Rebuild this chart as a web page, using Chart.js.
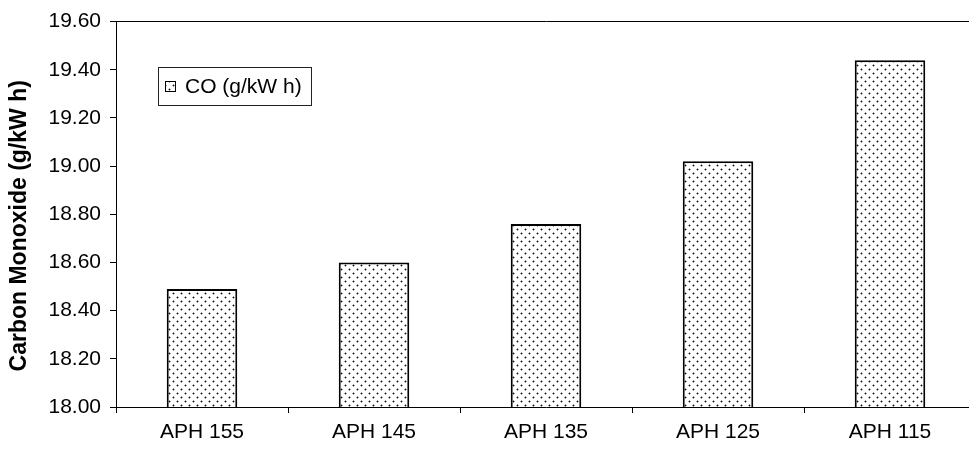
<!DOCTYPE html>
<html>
<head>
<meta charset="utf-8">
<script src="https://cdn.jsdelivr.net/npm/chart.js@4/dist/chart.umd.min.js"></script>
<style>
  html, body { margin: 0; padding: 0; background: #fff; overflow: hidden; }
  #wrap { width: 990px; height: 453px; }
</style>
</head>
<body>
<div id="wrap"><canvas id="coChart" width="990" height="453"></canvas></div>
<script>
const categories = ["APH 155", "APH 145", "APH 135", "APH 125", "APH 115"];
const coValues = [18.49, 18.60, 18.76, 19.02, 19.44];
const seriesLabel = "CO (g/kW h)";
const yTitle = "Carbon Monoxide (g/kW h)";
const yMin = 18.0;
const yMax = 19.6;
const yStep = 0.2;

const FONT = "'Liberation Sans', Arial, sans-serif";

// dotted fill like the old spreadsheet pattern
function dotPattern(ctx) {
    const p = document.createElement("canvas");
    p.width = 8;
    p.height = 8;
    const pc = p.getContext("2d");
    pc.fillStyle = "#fff";
    pc.fillRect(0, 0, 8, 8);
    pc.fillStyle = "rgba(60,60,60,0.5)";
    [[1, 1], [5, 5]].forEach(([x, y]) => {
        pc.fillRect(x - 1, y, 3, 1);
        pc.fillRect(x, y - 1, 1, 3);
    });
    pc.fillStyle = "#111";
    pc.fillRect(1, 1, 1, 1);
    pc.fillRect(5, 5, 1, 1);
    return ctx.createPattern(p, "repeat");
}

// legend box sitting inside the plot
const boxLegend = {
    id: "boxLegend",
    afterDraw(chart) {
        const ctx = chart.ctx;
        const ds = chart.data.datasets[0];
        const x = 158, y = 67, w = 153, h = 38;
        ctx.save();
        ctx.fillStyle = "#fff";
        ctx.fillRect(x, y, w, h);
        ctx.strokeStyle = "#222";
        ctx.lineWidth = 1;
        ctx.strokeRect(x + 0.5, y + 0.5, w, h);
        ctx.fillStyle = ds.backgroundColor;
        ctx.fillRect(165, 81, 10, 10);
        ctx.strokeStyle = "#000";
        ctx.strokeRect(165.5, 81.5, 10, 10);
        ctx.fillStyle = "#000";
        ctx.font = "21px " + FONT;
        ctx.textBaseline = "middle";
        ctx.fillText(ds.label, 185, y + h / 2 + 1);
        ctx.restore();
    }
};

const canvas = document.getElementById("coChart");
const c2d = canvas.getContext("2d");

new Chart(c2d, {
    type: "bar",
    data: {
        labels: categories,
        datasets: [{
            label: seriesLabel,
            data: coValues,
            backgroundColor: dotPattern(c2d),
            borderColor: "#000",
            borderWidth: 2,
            borderSkipped: false,
            categoryPercentage: 1.0,
            barPercentage: 0.41
        }]
    },
    options: {
        responsive: false,
        animation: false,
        devicePixelRatio: 1,
        layout: { padding: { top: 20, right: 14, left: 0, bottom: 0 } },
        plugins: {
            legend: { display: false },
            tooltip: { enabled: false }
        },
        scales: {
            x: {
                grid: {
                    drawOnChartArea: false,
                    tickLength: 6,
                    tickColor: "#000"
                },
                border: { color: "#000", width: 1 },
                ticks: {
                    color: "#000",
                    font: { family: FONT, size: 21 },
                    padding: 7,
                    maxRotation: 0
                },
                afterFit(scale) { scale.height = 46; }
            },
            y: {
                min: yMin,
                max: yMax,
                grid: {
                    tickLength: 6,
                    tickColor: "#000",
                    color: (c) => (c.index === c.chart.scales.y.ticks.length - 1 ? "#000" : "rgba(0,0,0,0)")
                },
                border: { color: "#000", width: 1 },
                ticks: {
                    stepSize: yStep,
                    color: "#000",
                    font: { family: FONT, size: 21 },
                    padding: 9,
                    callback: (v) => Number(v).toFixed(2)
                },
                title: {
                    display: true,
                    // two en spaces nudge the centred title a little lower
                    text: yTitle + "\u2002\u2002",
                    color: "#000",
                    font: { family: FONT, size: 23, weight: "bold" },
                    padding: { top: 6, bottom: 0 }
                },
                afterFit(scale) { scale.width = 116; }
            }
        }
    },
    plugins: [boxLegend]
});
</script>
</body>
</html>
